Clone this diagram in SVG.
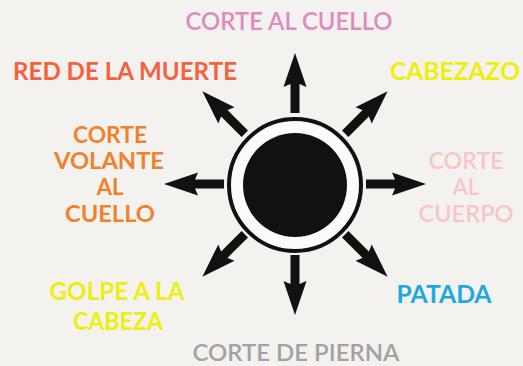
<svg xmlns="http://www.w3.org/2000/svg" width="523" height="366" viewBox="0 0 523 366">
<style>
text{font-family:Lato,"Open Sans","Liberation Sans",sans-serif;font-size:24px;text-anchor:middle}
.m{font-size:22px}
.b{font-weight:bold}
.r{font-weight:600}
</style>
<defs>
<path id="arr" d="M-4.5,-71 L4.5,-71 L4.5,-100 L11.5,-97 L0,-131 L-11.5,-97 L-4.5,-100 Z" fill="#111"/>
</defs>
<rect width="523" height="366" fill="#f3f2ef"/>
<g id="center">
<circle cx="295" cy="185" r="66" fill="#fbfbf9" stroke="#111" stroke-width="4"/>
<circle cx="295" cy="185" r="52" fill="#111"/>
</g>
<g id="connectors">
<use href="#arr" transform="translate(295,184)"/>
<use href="#arr" transform="translate(295,184) rotate(45)"/>
<use href="#arr" transform="translate(295,184) rotate(90)"/>
<use href="#arr" transform="translate(295,184) rotate(135)"/>
<use href="#arr" transform="translate(295,184) rotate(180)"/>
<use href="#arr" transform="translate(295,184) rotate(225)"/>
<use href="#arr" transform="translate(295,184) rotate(270)"/>
<use href="#arr" transform="translate(295,184) rotate(315)"/>
</g>
<g id="n-corte-cuello"><text class="r" x="289" y="30" fill="#df8ac0" textLength="207" lengthAdjust="spacingAndGlyphs">CORTE AL CUELLO</text></g>
<g id="n-red-muerte"><text class="b" x="125" y="80" fill="#f6603d" textLength="224" lengthAdjust="spacingAndGlyphs">RED DE LA MUERTE</text></g>
<g id="n-cabezazo"><text class="b" x="455" y="80" fill="#eeee10" textLength="130" lengthAdjust="spacingAndGlyphs">CABEZAZO</text></g>
<g id="n-corte-volante" fill="#f0822e">
<text class="b m" x="110" y="143" textLength="74" lengthAdjust="spacingAndGlyphs">CORTE</text>
<text class="b m" x="109" y="169" textLength="110" lengthAdjust="spacingAndGlyphs">VOLANTE</text>
<text class="b m" x="110" y="195">AL</text>
<text class="b m" x="110" y="222" textLength="90" lengthAdjust="spacingAndGlyphs">CUELLO</text>
</g>
<g id="n-corte-cuerpo" fill="#f9c6c8">
<text class="r m" x="466" y="169" textLength="75" lengthAdjust="spacingAndGlyphs">CORTE</text>
<text class="r m" x="466" y="195">AL</text>
<text class="r m" x="466" y="222" textLength="95" lengthAdjust="spacingAndGlyphs">CUERPO</text>
</g>
<g id="n-golpe" fill="#eeee10">
<text class="b" x="117" y="300" textLength="135" lengthAdjust="spacingAndGlyphs">GOLPE A LA</text>
<text class="b" x="118" y="330" textLength="90" lengthAdjust="spacingAndGlyphs">CABEZA</text>
</g>
<g id="n-patada"><text class="b" x="444" y="303" fill="#1ea8e0" textLength="95" lengthAdjust="spacingAndGlyphs">PATADA</text></g>
<g id="n-corte-pierna"><text class="r m" x="296" y="361" fill="#a2a2a2" textLength="207" lengthAdjust="spacingAndGlyphs">CORTE DE PIERNA</text></g>
</svg>
